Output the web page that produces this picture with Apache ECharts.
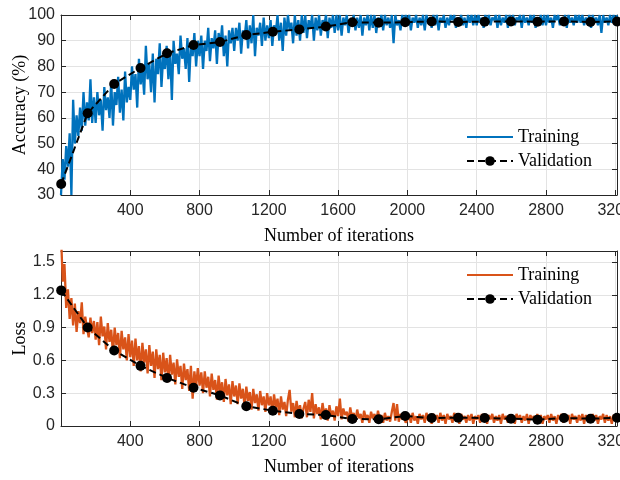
<!DOCTYPE html>
<html>
<head>
<meta charset="utf-8">
<script src="https://cdn.jsdelivr.net/npm/echarts@6/dist/echarts.min.js"></script>
<style>
  html, body { margin: 0; padding: 0; background: #fff; }
  #main { width: 620px; height: 480px; }
</style>
</head>
<body>
<div id="main"></div>
<script>
// training curves are logged every 10 iterations
const trainStep = 10;

const accTrain = [
  30, 44, 36, 49, 41, 54, 30, 67, 50, 61, 53, 64, 55, 70, 57, 66, 59, 75, 58, 68,
  58, 70, 61, 67, 55, 72, 63, 68, 60, 74, 57, 70, 65, 76, 62, 71, 59, 78, 66, 72,
  67, 80, 71, 77, 64, 83, 73, 79, 69, 88, 75, 81, 70, 85, 66, 83, 77, 89, 72, 84,
  79, 88, 75, 86, 67, 90, 81, 85, 77, 92, 83, 87, 79, 91, 74, 89, 84, 93, 80, 90,
  84, 92, 79, 90, 86, 95, 82, 91, 87, 94, 81, 93, 88, 96, 84, 92, 80, 94, 89, 95,
  86, 95, 90, 97, 85, 94, 91, 98, 87, 96, 89, 100, 84, 95, 92, 97, 88, 99, 90, 96,
  91, 98, 88, 96, 93, 100, 90, 97, 86, 99, 92, 100, 94, 97, 89, 100, 92, 98, 90, 100,
  93, 100, 91, 98, 95, 100, 90, 99, 94, 100, 92, 98, 96, 100, 91, 99, 95, 100, 93, 100,
  94, 100, 92, 99, 96, 100, 93, 98, 97, 100, 94, 99, 95, 100, 92, 99, 96, 100, 94, 100,
  95, 100, 93, 99, 97, 100, 94, 100, 96, 99, 95, 100, 89, 100, 96, 98, 94, 100, 97, 100,
  96, 100, 94, 99, 97, 100, 95, 99, 96, 100, 94, 100, 97, 99, 95, 100, 96, 100, 94, 99,
  97, 100, 95, 99, 96, 100, 98, 100, 95, 99, 97, 100, 96, 99, 95, 100, 97, 100, 96, 100,
  96, 100, 97, 99, 95, 100, 97, 100, 96, 99, 98, 100, 95, 100, 96, 99, 97, 100, 95, 100,
  97, 100, 96, 99, 98, 100, 95, 100, 97, 99, 96, 100, 97, 100, 95, 99, 97, 100, 96, 100,
  96, 100, 97, 99, 95, 100, 98, 100, 96, 99, 97, 100, 95, 100, 97, 99, 96, 100, 97, 100,
  97, 100, 96, 99, 97, 100, 95, 100, 97, 99, 96, 100, 93, 100, 97, 99, 96, 100, 97, 100,
  96, 100
];

const lossTrain = [
  1.75, 1.32, 1.48, 1.08, 1.25, 0.98, 1.17, 0.92, 1.12, 0.86, 1.05, 0.94, 1.13, 0.84, 1.0, 0.9, 0.81, 0.99, 0.85, 0.96,
  0.79, 0.95, 0.74, 1.0, 0.82, 0.91, 0.7, 0.94, 0.77, 0.88, 0.66, 0.9, 0.74, 0.85, 0.62, 0.87, 0.7, 0.81, 0.6, 0.84,
  0.63, 0.78, 0.55, 0.8, 0.6, 0.73, 0.5, 0.76, 0.58, 0.7, 0.48, 0.74, 0.55, 0.68, 0.44, 0.7, 0.52, 0.65, 0.42, 0.67,
  0.49, 0.62, 0.4, 0.65, 0.47, 0.58, 0.38, 0.61, 0.45, 0.55, 0.34, 0.57, 0.42, 0.52, 0.32, 0.55, 0.25, 0.5, 0.36, 0.53,
  0.37, 0.49, 0.3, 0.5, 0.35, 0.45, 0.27, 0.48, 0.33, 0.42, 0.24, 0.46, 0.3, 0.4, 0.22, 0.43, 0.28, 0.38, 0.2, 0.41,
  0.27, 0.37, 0.2, 0.39, 0.25, 0.34, 0.18, 0.36, 0.23, 0.31, 0.15, 0.34, 0.21, 0.29, 0.14, 0.32, 0.19, 0.27, 0.13, 0.3,
  0.19, 0.27, 0.12, 0.29, 0.17, 0.25, 0.1, 0.27, 0.15, 0.22, 0.09, 0.24, 0.33, 0.13, 0.21, 0.08, 0.23, 0.12, 0.19, 0.07,
  0.16, 0.22, 0.08, 0.24, 0.13, 0.3, 0.07, 0.2, 0.11, 0.17, 0.06, 0.21, 0.1, 0.16, 0.05, 0.19, 0.09, 0.14, 0.05, 0.18,
  0.09, 0.25, 0.06, 0.16, 0.1, 0.13, 0.04, 0.17, 0.08, 0.12, 0.04, 0.15, 0.07, 0.11, 0.03, 0.14, 0.07, 0.1, 0.03, 0.13,
  0.07, 0.11, 0.03, 0.14, 0.06, 0.1, 0.03, 0.12, 0.05, 0.09, 0.04, 0.13, 0.21, 0.05, 0.2, 0.04, 0.11, 0.06, 0.09, 0.03,
  0.06, 0.11, 0.03, 0.12, 0.05, 0.09, 0.02, 0.11, 0.06, 0.1, 0.03, 0.12, 0.05, 0.09, 0.02, 0.11, 0.06, 0.1, 0.03, 0.12,
  0.05, 0.1, 0.02, 0.11, 0.06, 0.09, 0.03, 0.12, 0.05, 0.1, 0.02, 0.11, 0.06, 0.09, 0.03, 0.1, 0.05, 0.11, 0.02, 0.09,
  0.06, 0.1, 0.03, 0.11, 0.05, 0.09, 0.02, 0.1, 0.06, 0.11, 0.03, 0.09, 0.05, 0.1, 0.02, 0.11, 0.06, 0.09, 0.03, 0.1,
  0.05, 0.09, 0.02, 0.11, 0.06, 0.1, 0.03, 0.09, 0.05, 0.11, 0.02, 0.1, 0.06, 0.09, 0.03, 0.11, 0.05, 0.1, 0.02, 0.09,
  0.06, 0.1, 0.03, 0.11, 0.05, 0.09, 0.02, 0.1, 0.06, 0.11, 0.03, 0.09, 0.05, 0.1, 0.02, 0.11, 0.06, 0.09, 0.03, 0.1,
  0.05, 0.11, 0.02, 0.1, 0.06, 0.09, 0.03, 0.11, 0.05, 0.1, 0.02, 0.09, 0.06, 0.11, 0.03, 0.1, 0.05, 0.09, 0.02, 0.1,
  0.06, 0.1
];

const valIters = [1, 154, 307, 459, 612, 765, 918, 1070, 1223, 1376, 1529,
                  1682, 1834, 1987, 2140, 2293, 2446, 2598, 2751, 2904, 3057, 3210];
const accVal = [34.3, 61.8, 73.2, 79.4, 85.1, 88.3, 89.5, 92.2, 93.5, 94.4, 95.5,
                97.2, 97.0, 97.2, 97.5, 97.3, 97.4, 97.5, 97.4, 97.5, 97.3, 97.5];
const lossVal = [1.24, 0.90, 0.69, 0.55, 0.44, 0.35, 0.28, 0.18, 0.14, 0.11, 0.10,
                 0.064, 0.061, 0.091, 0.073, 0.076, 0.073, 0.067, 0.058, 0.073, 0.067, 0.075];

const xMax = 3210;

function pairs(xs, ys) { return ys.map((y, i) => [xs[i], y]); }
function trainPairs(ys) { return ys.map((y, i) => [i * trainStep, y]); }

const axisCol = '#262626';
const gridCol = '#e3e3e3';
const tickFont = { fontFamily: 'Liberation Sans', fontSize: 16, color: axisCol };
const titleFont = { fontFamily: 'Liberation Serif', fontSize: 18, color: '#000' };

function xAx(grid, main) {
  return {
    type: 'value', gridIndex: grid, min: 0, max: xMax, interval: 400,
    position: main ? 'bottom' : 'top',
    name: main ? 'Number of iterations' : '', nameLocation: 'middle', nameGap: 32,
    nameMoveOverlap: false, nameTextStyle: titleFont,
    axisLine: { show: true, onZero: false, lineStyle: { color: axisCol, width: 1 } },
    axisTick: { show: true, inside: true, length: 5, lineStyle: { color: axisCol } },
    axisLabel: { show: main, showMinLabel: false, showMaxLabel: false, margin: 8,
      formatter: v => String(v), ...tickFont },
    splitLine: { show: main, lineStyle: { color: gridCol } }
  };
}
function yAx(grid, main, min, max, step, title) {
  return {
    type: 'value', gridIndex: grid, min: min, max: max, interval: step,
    position: main ? 'left' : 'right',
    name: main ? title : '', nameLocation: 'middle', nameGap: 32,
    nameMoveOverlap: false, nameTextStyle: titleFont,
    axisLine: { show: true, onZero: false, lineStyle: { color: axisCol, width: 1 } },
    axisTick: { show: true, inside: true, length: 5, lineStyle: { color: axisCol } },
    axisLabel: { show: main, showMaxLabel: max % step === 0, margin: 6,
      formatter: v => String(Math.round(v * 10) / 10), ...tickFont },
    splitLine: { show: main, lineStyle: { color: gridCol } }
  };
}

const valStyle = {
  type: 'line', symbol: 'circle', symbolSize: 10,
  itemStyle: { color: '#000' },
  lineStyle: { color: '#000', width: 2, type: [7, 4] },
  z: 5
};

const chart = echarts.init(document.getElementById('main'));
chart.setOption({
  animation: false,
  backgroundColor: '#fff',
  grid: [
    { left: 61, right: 3, top: 15, height: 180, outerBoundsMode: 'none', containLabel: false },
    { left: 61, right: 3, top: 251, height: 175, outerBoundsMode: 'none', containLabel: false }
  ],
  legend: [
    {
      data: [{ name: 'Training', itemStyle: { opacity: 0 } }, 'Validation'],
      orient: 'vertical', left: 461, top: 123,
      itemWidth: 46, itemHeight: 12, itemGap: 6, textStyle: titleFont
    },
    {
      data: [{ name: 'Loss training', itemStyle: { opacity: 0 } }, 'Loss validation'],
      orient: 'vertical', left: 461, top: 261,
      itemWidth: 46, itemHeight: 12, itemGap: 6, textStyle: titleFont,
      formatter: n => n === 'Loss training' ? 'Training' : 'Validation'
    }
  ],
  xAxis: [xAx(0, true), xAx(0, false), xAx(1, true), xAx(1, false)],
  yAxis: [
    yAx(0, true, 30, 100, 10, 'Accuracy (%)'), yAx(0, false, 30, 100, 10, ''),
    yAx(1, true, 0, 1.6, 0.3, 'Loss'), yAx(1, false, 0, 1.6, 0.3, '')
  ],
  series: [
    {
      name: 'Training', type: 'line', xAxisIndex: 0, yAxisIndex: 0,
      data: trainPairs(accTrain), symbol: 'none',
      itemStyle: { color: '#0072BD' }, lineStyle: { color: '#0072BD', width: 2.3 }
    },
    { name: 'Validation', xAxisIndex: 0, yAxisIndex: 0, data: pairs(valIters, accVal), ...valStyle },
    {
      name: 'Loss training', type: 'line', xAxisIndex: 2, yAxisIndex: 2,
      data: trainPairs(lossTrain), symbol: 'none',
      itemStyle: { color: '#D95319' }, lineStyle: { color: '#D95319', width: 2.3 }
    },
    { name: 'Loss validation', xAxisIndex: 2, yAxisIndex: 2, data: pairs(valIters, lossVal), ...valStyle }
  ]
});
</script>
</body>
</html>
